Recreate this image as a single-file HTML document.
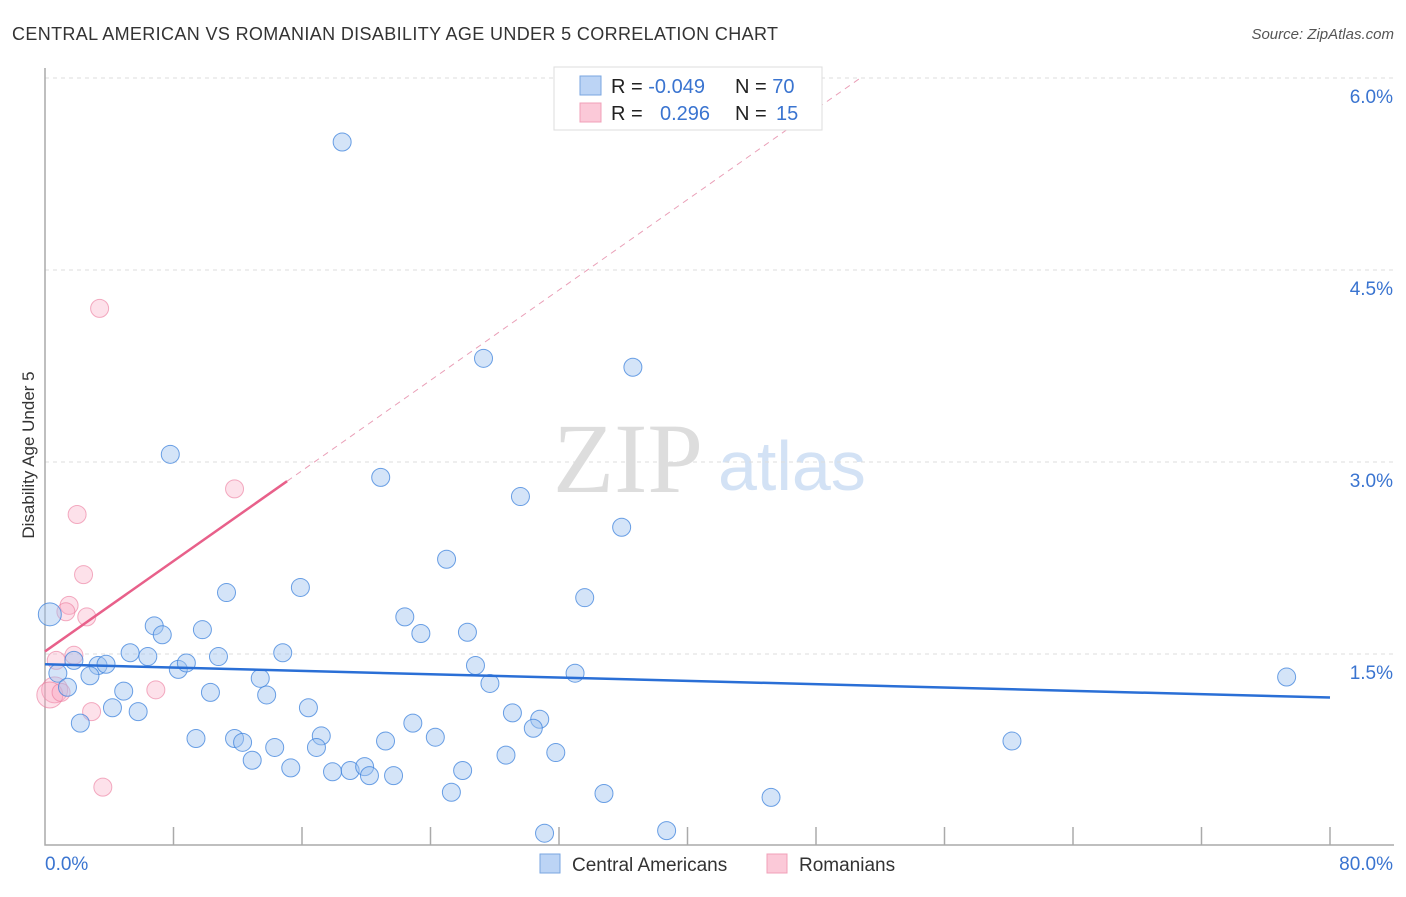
<!DOCTYPE html>
<html><head><meta charset="utf-8"><style>
body{margin:0;background:#fff;font-family:"Liberation Sans",sans-serif}
svg text{font-family:"Liberation Sans",sans-serif}
</style></head><body>
<svg id="chart" width="1406" height="892">
<text x="12" y="40" font-size="18" fill="#333" textLength="766">CENTRAL AMERICAN VS ROMANIAN DISABILITY AGE UNDER 5 CORRELATION CHART</text>
<text x="1394" y="39" font-size="15" fill="#555" font-style="italic" text-anchor="end">Source: ZipAtlas.com</text>
<text x="34" y="455" font-size="17" fill="#333" text-anchor="middle" transform="rotate(-90 34 455)">Disability Age Under 5</text>
<text x="553" y="492" font-size="100" fill="#ddd" style="font-family:'Liberation Serif',serif">ZIP</text>
<text x="718" y="490" font-size="70" fill="#d3e2f5">atlas</text>
<g id="grid"></g><g id="axes"></g><g id="pts"></g><g id="lines"></g>
<g>
<rect x="554" y="67" width="268" height="63" fill="#fff" stroke="#ddd"/>
<rect x="580" y="76" width="21" height="19" fill="#bcd4f5" stroke="#7aa6e0"/>
<rect x="580" y="103" width="21" height="19" fill="#fbc9d8" stroke="#f0a0b8"/>
<text x="611" y="93" font-size="20" fill="#222">R = <tspan fill="#3a74d0">-0.049</tspan><tspan x="735">N = </tspan><tspan fill="#3a74d0">70</tspan></text>
<text x="611" y="120" font-size="20" fill="#222">R = <tspan x="660" fill="#3a74d0">0.296</tspan><tspan x="735">N = </tspan><tspan x="776" fill="#3a74d0">15</tspan></text>
</g>
<g>
<rect x="540" y="854" width="20" height="19" fill="#bcd4f5" stroke="#7aa6e0"/>
<text x="572" y="871" font-size="19" fill="#333">Central Americans</text>
<rect x="767" y="854" width="20" height="19" fill="#fbc9d8" stroke="#f0a0b8"/>
<text x="799" y="871" font-size="19" fill="#333">Romanians</text>
</g>
</svg>
<script>
const blueX=[18.5,27.3,36.6,7.8,20.9,29.6,35.9,25.0,11.3,15.9,33.6,22.4,23.4,26.3,0.3,6.8,7.3,9.8,5.3,6.4,10.8,14.8,1.8,3.3,3.8,8.3,8.8,26.8,33.0,0.8,2.8,13.4,1.4,4.9,10.3,13.8,27.7,77.3,4.2,5.8,16.4,29.1,30.8,30.4,2.2,22.9,9.4,11.8,12.3,17.2,21.2,24.3,14.3,16.9,28.7,31.8,60.2,12.9,15.3,17.9,19.0,19.9,20.2,21.7,26.0,25.3,34.8,45.2,31.1,38.7];
const blueY=[5.5,3.81,3.74,3.06,2.88,2.73,2.49,2.24,1.98,2.02,1.94,1.79,1.66,1.67,1.81,1.72,1.65,1.69,1.51,1.48,1.48,1.51,1.45,1.41,1.42,1.38,1.43,1.41,1.35,1.35,1.33,1.31,1.24,1.21,1.20,1.18,1.27,1.32,1.08,1.05,1.08,1.04,0.99,0.92,0.96,0.96,0.84,0.84,0.81,0.86,0.82,0.85,0.77,0.77,0.71,0.73,0.82,0.67,0.61,0.58,0.59,0.62,0.55,0.55,0.59,0.42,0.41,0.38,0.10,0.12];
const pinkX=[3.4,11.8,2.0,2.4,1.5,1.3,2.6,1.8,0.7,0.6,0.3,1.0,6.9,2.9,3.6];
const pinkY=[4.20,2.79,2.59,2.12,1.88,1.83,1.79,1.49,1.45,1.22,1.18,1.20,1.22,1.05,0.46];
const yTicks=[1.5,3.0,4.5,6.0];
const blueTrend=[1.42,1.16];
const pinkTrend=[1.52,2.85];
const pinkTrendEnd=15.07;
const sx=v=>45+v*1285/80, sy=v=>654-(v-1.5)*128;
const NS="http://www.w3.org/2000/svg";
function mk(p,t,a){const e=document.createElementNS(NS,t);for(const k in a)e.setAttribute(k,a[k]);p.appendChild(e);return e;}
const grid=document.getElementById('grid'),axes=document.getElementById('axes'),pts=document.getElementById('pts'),lines=document.getElementById('lines');
yTicks.forEach(v=>{
 const l=mk(grid,'line',{x1:45,x2:1394,y1:sy(v),y2:sy(v),stroke:'#ddd','stroke-dasharray':'4,4'});
 
 
 const t=mk(grid,'text',{x:1393,y:sy(v)+25,'font-size':19,fill:'#3a74d0','text-anchor':'end'});t.textContent=v.toFixed(1)+'%';
 
 
});
const ax=mk(axes,'path',{d:'M45 68V845H1394',fill:'none',stroke:'#aaa','stroke-width':1.5});


for(let i=1;i<=10;i++){const tk=mk(axes,'line',{x1:sx(i*8),x2:sx(i*8),y1:827,y2:845,stroke:'#aaa','stroke-width':1.5});
 
 }
const x0=mk(axes,'text',{x:45,y:870,'font-size':19,fill:'#3a74d0'});x0.textContent='0.0%';


const x1=mk(axes,'text',{x:1393,y:870,'font-size':19,fill:'#3a74d0','text-anchor':'end'});x1.textContent='80.0%';


pinkX.forEach((x,i)=>{const c=mk(pts,'circle',{cx:sx(x),cy:sy(pinkY[i]),r:(i==9||i==10)?13:9,fill:'rgba(248,170,195,0.35)',stroke:'rgba(235,120,155,0.6)','stroke-width':1});
 
 });
blueX.forEach((x,i)=>{const c=mk(pts,'circle',{cx:sx(x),cy:sy(blueY[i]),r:i==14?11.5:9,fill:'rgba(160,195,240,0.45)',stroke:'rgba(60,130,220,0.75)','stroke-width':1});
 
 });
const bl=mk(lines,'line',{x1:sx(0),y1:sy(blueTrend[0]),x2:sx(80),y2:sy(blueTrend[1]),stroke:'#2a6fd6','stroke-width':2.5});


const slope=(pinkTrend[1]-pinkTrend[0])/pinkTrendEnd;
const pl=mk(lines,'line',{x1:sx(0),y1:sy(pinkTrend[0]),x2:sx(pinkTrendEnd),y2:sy(pinkTrend[1]),stroke:'#e8608a','stroke-width':2.5});


const xe=(6.0-pinkTrend[0])/slope;
const pd=mk(lines,'line',{x1:sx(pinkTrendEnd),y1:sy(pinkTrend[1]),x2:sx(xe),y2:sy(6.0),stroke:'#eaa0b8','stroke-width':1,'stroke-dasharray':'6,5'});


</script>
</body></html>
